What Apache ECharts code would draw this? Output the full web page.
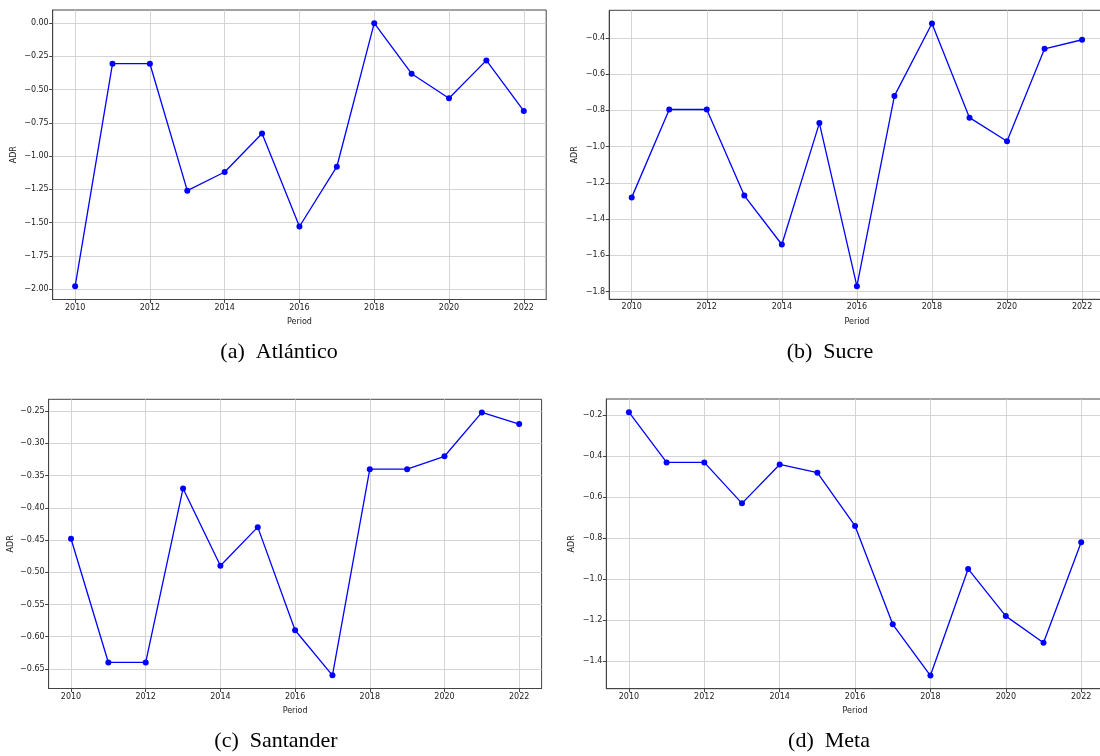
<!DOCTYPE html>
<html>
<head>
<meta charset="utf-8">
<script src="https://cdn.jsdelivr.net/npm/echarts@6/dist/echarts.min.js"></script>
<style>
html,body{margin:0;padding:0;background:#fff;}
#c{width:1100px;height:756px;}
</style>
</head>
<body>
<div id="c"></div>
<script>
const years = [2010,2011,2012,2013,2014,2015,2016,2017,2018,2019,2020,2021,2022];
const xTicks = [2010,2012,2014,2016,2018,2020,2022];

const atlantico = [-1.98,-0.305,-0.305,-1.26,-1.12,-0.83,-1.53,-1.08,0.0,-0.38,-0.565,-0.28,-0.66];
const sucre     = [-1.28,-0.795,-0.795,-1.27,-1.54,-0.87,-1.77,-0.72,-0.32,-0.84,-0.97,-0.46,-0.41];
const santander = [-0.448,-0.64,-0.64,-0.37,-0.49,-0.43,-0.59,-0.66,-0.34,-0.34,-0.32,-0.252,-0.27];
const meta      = [-0.185,-0.43,-0.43,-0.63,-0.44,-0.48,-0.74,-1.22,-1.47,-0.95,-1.18,-1.31,-0.82];

const yTicksA = [-2.00,-1.75,-1.50,-1.25,-1.00,-0.75,-0.50,-0.25,0.00];
const yTicksB = [-1.8,-1.6,-1.4,-1.2,-1.0,-0.8,-0.6,-0.4];
const yTicksC = [-0.65,-0.60,-0.55,-0.50,-0.45,-0.40,-0.35,-0.30,-0.25];
const yTicksD = [-1.4,-1.2,-1.0,-0.8,-0.6,-0.4,-0.2];

const captions = ['(a)  Atlántico','(b)  Sucre','(c)  Santander','(d)  Meta'];

const panels = [
  {data: atlantico, ticks: yTicksA, dec: 2, grid:{left:52.7, top:10, width:493.5, height:289.5}, nameGap:35, cap:[279,352]},
  {data: sucre,     ticks: yTicksB, dec: 1, grid:{left:609.2, top:10.3, width:495.4, height:289}, nameGap:30, cap:[830,352]},
  {data: santander, ticks: yTicksC, dec: 2, grid:{left:48.6, top:399.3, width:493, height:289.2}, nameGap:34, cap:[276,741.5]},
  {data: meta,      ticks: yTicksD, dec: 1, grid:{left:606.3, top:399, width:497.5, height:289.7}, nameGap:30, cap:[829,741.5]}
];

function pad(arr){
  const mn = Math.min.apply(null, arr), mx = Math.max.apply(null, arr);
  const m = (mx - mn) * 0.05;
  return [mn - m, mx + m];
}
function fmt(v, d){
  const s = Math.abs(v).toFixed(d);
  return (v < -1e-9 ? '\u2212' : '') + s;
}

const axisLineStyle = {color:'#444', width:1};
const gridStyle = {color:'#cfcfcf', width:0.9};
const tickFont = {fontFamily:'DejaVu Sans', fontSize:8, color:'#222'};

const option = {
  animation:false,
  backgroundColor:'#fff',
  grid: panels.map(p => Object.assign({containLabel:false, outerBoundsMode:'none', show:true, borderColor:'#444', borderWidth:1}, p.grid)),
  xAxis: panels.map((p,i) => ({
    type:'value', gridIndex:i, min:2009.4, max:2022.6,
    name:'Period', nameLocation:'middle', nameGap:18.5,
    nameTextStyle:{fontFamily:'DejaVu Sans', fontSize:8, color:'#222'},
    axisLine:{show:true, onZero:false, lineStyle:axisLineStyle},
    axisTick:{show:true, length:3.5, lineStyle:{color:'#444'}, customValues:xTicks},
    axisLabel:Object.assign({customValues:xTicks, margin:4, formatter:v=>String(Math.round(v))}, tickFont),
    splitLine:{show:true, lineStyle:gridStyle}
  })),
  yAxis: panels.map((p,i) => {
    const r = pad(p.data);
    return {
      type:'value', gridIndex:i, min:r[0], max:r[1],
      name:'ADR', nameLocation:'middle', nameGap:p.nameGap, nameRotate:90,
      nameTextStyle:{fontFamily:'DejaVu Sans', fontSize:8, color:'#222'},
      axisLine:{show:true, onZero:false, lineStyle:axisLineStyle},
      axisTick:{show:true, length:3.5, lineStyle:{color:'#444'}, customValues:p.ticks},
      axisLabel:Object.assign({customValues:p.ticks, margin:4, formatter:v=>fmt(v,p.dec)}, tickFont),
      splitLine:{show:true, lineStyle:gridStyle}
    };
  }),
  series: panels.map((p,i) => ({
    type:'line', xAxisIndex:i, yAxisIndex:i,
    data: years.map((y,k)=>[y, p.data[k]]),
    symbol:'circle', symbolSize:6,
    lineStyle:{color:'#0000ff', width:1.3},
    itemStyle:{color:'#0000ff'},
    clip:false
  })),
  graphic: panels.map((p,i) => ({
    type:'text', x:p.cap[0], y:p.cap[1],
    style:{text:captions[i], font:'22px "Liberation Serif"', fill:'#000', textAlign:'center', textVerticalAlign:'middle'}
  }))
};

const chart = echarts.init(document.getElementById('c'), null, {renderer:'canvas'});
chart.setOption(option);
</script>
</body>
</html>
